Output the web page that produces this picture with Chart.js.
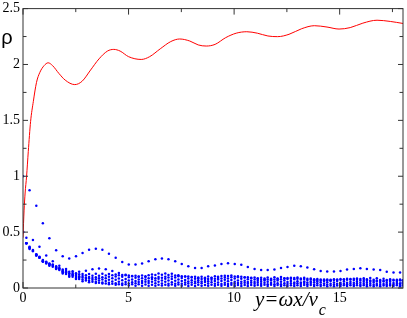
<!DOCTYPE html>
<html>
<head>
<meta charset="utf-8">
<script src="https://cdn.jsdelivr.net/npm/chart.js@4/dist/chart.umd.min.js"></script>
<style>
  html, body { margin: 0; padding: 0; background: #fff; }
  canvas { display: block; }
</style>
</head>
<body>
<canvas id="c" width="407" height="318"></canvas>
<script>
// axis ticks
const xMajor = [0, 5, 10, 15];
const xMinor = [2.5, 7.5, 12.5, 17.5];
const yMajor = [0, 0.5, 1, 1.5, 2, 2.5];
const yMinor = [0.25, 0.75, 1.25, 1.75, 2.25];

// red curve rho(y)
const rhoX = [0, 0.05, 0.1, 0.17, 0.25, 0.36, 0.49, 0.64, 0.8, 1.0, 1.19, 1.4, 1.7, 2.0, 2.45, 2.8, 3.2, 3.6, 4.0, 4.3, 4.6, 5.0, 5.6, 6.0, 6.5, 7.0, 7.42, 7.9, 8.3, 8.68, 9.1, 9.6, 10.1, 10.6, 11.1, 11.6, 12.06, 12.6, 13.2, 13.8, 14.4, 14.97, 15.5, 16.1, 16.77, 17.4, 18.0];
const rhoY = [0.45, 0.69, 0.85, 1.0, 1.22, 1.49, 1.67, 1.84, 1.93, 1.99, 2.015, 1.99, 1.92, 1.86, 1.82, 1.85, 1.95, 2.05, 2.12, 2.135, 2.12, 2.07, 2.045, 2.07, 2.14, 2.205, 2.228, 2.21, 2.175, 2.165, 2.18, 2.24, 2.28, 2.293, 2.28, 2.255, 2.249, 2.27, 2.32, 2.347, 2.335, 2.317, 2.33, 2.37, 2.396, 2.385, 2.367];

// sample positions of the dotted series
const yA = [0, 0.31, 0.63, 0.94, 1.25, 1.57, 1.88, 2.19, 2.51, 2.82, 3.13, 3.45, 3.76, 4.07, 4.39, 4.7, 5.01, 5.33, 5.64, 5.95, 6.27, 6.58, 6.89, 7.21, 7.52, 7.83, 8.15, 8.46, 8.77, 9.09, 9.4, 9.71, 10.03, 10.34, 10.65, 10.97, 11.28, 11.59, 11.91, 12.22, 12.53, 12.85, 13.16, 13.47, 13.79, 14.1, 14.41, 14.73, 15.04, 15.35, 15.67, 15.98, 16.29, 16.61, 16.92, 17.23, 17.55, 17.86];
const yB = [0.16, 0.47, 0.78, 1.1, 1.41, 1.72, 2.04, 2.35, 2.66, 2.98, 3.29, 3.6, 3.92, 4.23, 4.54, 4.86, 5.17, 5.48, 5.8, 6.11, 6.42, 6.74, 7.05, 7.36, 7.68, 7.99, 8.3, 8.62, 8.93, 9.24, 9.56, 9.87, 10.18, 10.5, 10.81, 11.12, 11.44, 11.75, 12.06, 12.38, 12.69, 13.0, 13.32, 13.63, 13.94, 14.26, 14.57, 14.88, 15.2, 15.51, 15.82, 16.14, 16.45, 16.76, 17.08, 17.39, 17.71, 17.99];

// dotted series (on yA)
const dotsTop = [1.0, 0.875, 0.735, 0.58, 0.446, 0.337, 0.284, 0.263, 0.284, 0.313, 0.343, 0.352, 0.343, 0.307, 0.27, 0.233, 0.21, 0.21, 0.219, 0.239, 0.257, 0.263, 0.257, 0.239, 0.215, 0.195, 0.18, 0.18, 0.195, 0.201, 0.215, 0.222, 0.215, 0.207, 0.189, 0.171, 0.162, 0.16, 0.166, 0.18, 0.189, 0.198, 0.195, 0.183, 0.168, 0.153, 0.148, 0.148, 0.153, 0.166, 0.171, 0.177, 0.171, 0.166, 0.16, 0.145, 0.139, 0.139];
const bandA1 = [0.5, 0.37, 0.3, 0.25, 0.22, 0.195, 0.165, 0.145, 0.132, 0.126, 0.125, 0.127, 0.128, 0.126, 0.121, 0.116, 0.112, 0.11, 0.111, 0.114, 0.117, 0.118, 0.116, 0.111, 0.106, 0.102, 0.1, 0.1, 0.103, 0.106, 0.108, 0.107, 0.104, 0.1, 0.096, 0.093, 0.092, 0.093, 0.096, 0.099, 0.09, 0.089, 0.086, 0.082, 0.078, 0.076, 0.076, 0.078, 0.081, 0.083, 0.083, 0.081, 0.078, 0.074, 0.072, 0.071, 0.073, 0.075];
const bandA2 = [0.5, 0.36, 0.3, 0.245, 0.215, 0.185, 0.155, 0.133, 0.117, 0.107, 0.098, 0.096, 0.097, 0.1, 0.102, 0.101, 0.097, 0.092, 0.088, 0.087, 0.088, 0.091, 0.093, 0.093, 0.09, 0.086, 0.082, 0.08, 0.08, 0.082, 0.085, 0.086, 0.085, 0.082, 0.078, 0.075, 0.074, 0.075, 0.077, 0.079, 0.08, 0.078, 0.075, 0.072, 0.069, 0.068, 0.069, 0.071, 0.073, 0.073, 0.071, 0.068, 0.065, 0.063, 0.063, 0.064, 0.066, 0.067];
const bandA3 = [0.5, 0.36, 0.3, 0.24, 0.21, 0.18, 0.15, 0.125, 0.107, 0.094, 0.085, 0.079, 0.075, 0.074, 0.073, 0.07, 0.066, 0.063, 0.062, 0.063, 0.066, 0.068, 0.068, 0.065, 0.062, 0.059, 0.058, 0.058, 0.06, 0.062, 0.062, 0.06, 0.057, 0.055, 0.054, 0.054, 0.056, 0.057, 0.057, 0.055, 0.053, 0.05, 0.049, 0.05, 0.051, 0.052, 0.052, 0.05, 0.048, 0.046, 0.046, 0.047, 0.048, 0.049, 0.048, 0.046, 0.044, 0.043];
const bandA4 = [0.5, 0.36, 0.29, 0.24, 0.205, 0.175, 0.14, 0.11, 0.09, 0.075, 0.064, 0.056, 0.05, 0.046, 0.043, 0.041, 0.041, 0.043, 0.045, 0.045, 0.043, 0.041, 0.039, 0.038, 0.039, 0.041, 0.042, 0.042, 0.04, 0.038, 0.036, 0.036, 0.037, 0.039, 0.039, 0.038, 0.036, 0.034, 0.033, 0.034, 0.035, 0.036, 0.036, 0.034, 0.032, 0.031, 0.031, 0.032, 0.033, 0.033, 0.032, 0.03, 0.029, 0.029, 0.03, 0.031, 0.031, 0.03];
const bandA5 = [0.5, 0.35, 0.29, 0.235, 0.2, 0.17, 0.13, 0.1, 0.08, 0.06, 0.052, 0.045, 0.04, 0.034, 0.03, 0.026, 0.023, 0.021, 0.02, 0.02, 0.021, 0.022, 0.022, 0.021, 0.02, 0.019, 0.019, 0.02, 0.021, 0.021, 0.02, 0.019, 0.018, 0.018, 0.019, 0.02, 0.02, 0.019, 0.018, 0.017, 0.017, 0.018, 0.019, 0.019, 0.018, 0.017, 0.016, 0.016, 0.017, 0.018, 0.018, 0.017, 0.016, 0.016, 0.016, 0.017, 0.017, 0.016];

// dotted series (on yB)
const dotsSecond = [0.45, 0.43, 0.37, 0.29, 0.24, 0.2, 0.17, 0.15, 0.145, 0.154, 0.168, 0.174, 0.168, 0.153, 0.135, 0.118, 0.106, 0.1, 0.106, 0.121, 0.13, 0.13, 0.127, 0.115, 0.103, 0.093, 0.087, 0.087, 0.092, 0.1, 0.109, 0.112, 0.106, 0.097, 0.088, 0.08, 0.076, 0.077, 0.08, 0.086, 0.092, 0.095, 0.092, 0.086, 0.08, 0.076, 0.074, 0.075, 0.078, 0.081, 0.085, 0.088, 0.09, 0.088, 0.083, 0.078, 0.073, 0.07];
const bandB1 = [0.4, 0.34, 0.28, 0.235, 0.21, 0.18, 0.152, 0.134, 0.122, 0.114, 0.11, 0.109, 0.111, 0.114, 0.115, 0.113, 0.108, 0.103, 0.099, 0.097, 0.098, 0.101, 0.104, 0.105, 0.103, 0.099, 0.095, 0.091, 0.089, 0.09, 0.093, 0.096, 0.097, 0.095, 0.091, 0.087, 0.084, 0.083, 0.084, 0.087, 0.082, 0.082, 0.08, 0.076, 0.072, 0.07, 0.07, 0.072, 0.074, 0.075, 0.074, 0.071, 0.068, 0.066, 0.065, 0.066, 0.068, 0.069];
const bandB2 = [0.4, 0.33, 0.275, 0.23, 0.205, 0.175, 0.145, 0.122, 0.105, 0.095, 0.09, 0.087, 0.088, 0.087, 0.084, 0.08, 0.077, 0.076, 0.077, 0.08, 0.082, 0.082, 0.08, 0.076, 0.072, 0.07, 0.07, 0.072, 0.074, 0.075, 0.074, 0.071, 0.067, 0.065, 0.064, 0.065, 0.067, 0.068, 0.068, 0.066, 0.063, 0.06, 0.059, 0.059, 0.061, 0.063, 0.063, 0.062, 0.059, 0.056, 0.055, 0.055, 0.057, 0.058, 0.058, 0.056, 0.054, 0.052];
const bandB3 = [0.4, 0.33, 0.27, 0.225, 0.2, 0.17, 0.14, 0.115, 0.097, 0.083, 0.073, 0.066, 0.062, 0.058, 0.055, 0.053, 0.052, 0.053, 0.055, 0.057, 0.057, 0.055, 0.052, 0.05, 0.049, 0.05, 0.052, 0.053, 0.052, 0.05, 0.047, 0.045, 0.045, 0.046, 0.048, 0.048, 0.047, 0.045, 0.043, 0.042, 0.042, 0.043, 0.044, 0.044, 0.042, 0.04, 0.038, 0.038, 0.039, 0.04, 0.04, 0.039, 0.037, 0.035, 0.035, 0.036, 0.037, 0.037];
const bandB4 = [0.4, 0.33, 0.27, 0.22, 0.19, 0.16, 0.125, 0.1, 0.08, 0.066, 0.055, 0.047, 0.041, 0.037, 0.034, 0.033, 0.034, 0.034, 0.032, 0.03, 0.029, 0.029, 0.031, 0.032, 0.032, 0.03, 0.028, 0.027, 0.028, 0.029, 0.03, 0.029, 0.027, 0.026, 0.026, 0.027, 0.028, 0.028, 0.027, 0.025, 0.024, 0.025, 0.026, 0.026, 0.025, 0.024, 0.023, 0.023, 0.024, 0.025, 0.025, 0.024, 0.023, 0.022, 0.022, 0.023, 0.024, 0.023];

const serif = '"Liberation Serif", "Times New Roman", serif';

const pts = (xs, ys) => xs.map((x, i) => ({ x, y: ys[i] }));
const dotSet = (xs, ys) => ({
  data: pts(xs, ys),
  pointRadius: 1.25,
  pointBackgroundColor: '#0000ff',
  pointBorderWidth: 0,
  showLine: false
});

// frame, inward ticks and labels
const framePlugin = {
  id: 'frame',
  afterDraw(chart) {
    const { ctx, chartArea: a, scales: { x, y } } = chart;
    ctx.save();
    ctx.strokeStyle = '#333';
    ctx.lineWidth = 1;
    ctx.strokeRect(a.left, a.top, a.width, a.height);
    const seg = (x1, y1, x2, y2) => { ctx.beginPath(); ctx.moveTo(x1, y1); ctx.lineTo(x2, y2); ctx.stroke(); };
    const xt = (vals, len) => vals.forEach(v => {
      const p = x.getPixelForValue(v);
      seg(p, a.bottom, p, a.bottom - len);
      seg(p, a.top, p, a.top + len);
    });
    const yt = (vals, len) => vals.forEach(v => {
      const p = y.getPixelForValue(v);
      seg(a.left, p, a.left + len, p);
      seg(a.right, p, a.right - len, p);
    });
    xt(xMajor, 6); xt(xMinor, 3.5);
    yt(yMajor, 5); yt(yMinor, 3.5);

    ctx.fillStyle = '#000';
    ctx.font = '20px "Liberation Sans"';
    ctx.textAlign = 'center';
    ctx.textBaseline = 'alphabetic';
    ctx.fillText('ρ', 7, 44);

    ctx.textAlign = 'left';
    ctx.font = 'italic 21px ' + serif;
    const main = 'y=ωx/v';
    ctx.fillText(main, 255, 306);
    const w = ctx.measureText(main).width;
    ctx.font = 'italic 16px ' + serif;
    ctx.fillText('c', 255 + w + 1, 315);
    ctx.restore();
  }
};

new Chart(document.getElementById('c'), {
  type: 'scatter',
  data: {
    datasets: [
      {
        data: pts(rhoX, rhoY),
        showLine: true,
        borderColor: '#ff0000',
        borderWidth: 1,
        pointRadius: 0,
        cubicInterpolationMode: 'monotone'
      },
      dotSet(yA, dotsTop),
      dotSet(yB, dotsSecond),
      dotSet(yA, bandA1),
      dotSet(yB, bandB1),
      dotSet(yA, bandA2),
      dotSet(yB, bandB2),
      dotSet(yA, bandA3),
      dotSet(yB, bandB3),
      dotSet(yA, bandA4),
      dotSet(yB, bandB4),
      dotSet(yA, bandA5)
    ]
  },
  options: {
    responsive: false,
    animation: false,
    devicePixelRatio: 1,
    layout: { padding: { top: 6, right: 2, left: 0, bottom: 0 } },
    plugins: { legend: { display: false }, tooltip: { enabled: false } },
    scales: {
      x: {
        type: 'linear', min: 0, max: 18,
        grid: { display: false, drawTicks: false },
        border: { display: false },
        afterBuildTicks: s => { s.ticks = xMajor.map(v => ({ value: v })); },
        afterFit: s => { s.height = 30; },
        ticks: { color: '#000', padding: 3, maxRotation: 0, autoSkip: false,
                 callback: v => String(v),
                 font: { family: serif, size: 14, lineHeight: 1 } }
      },
      y: {
        type: 'linear', min: 0, max: 2.5,
        grid: { display: false, drawTicks: false },
        border: { display: false },
        afterBuildTicks: s => { s.ticks = yMajor.map(v => ({ value: v })); },
        afterFit: s => { s.width = 23; },
        ticks: { color: '#000', padding: 3,
                 callback: v => String(v),
                 font: { family: serif, size: 14, lineHeight: 0.8 } }
      }
    }
  },
  plugins: [framePlugin]
});
</script>
</body>
</html>
